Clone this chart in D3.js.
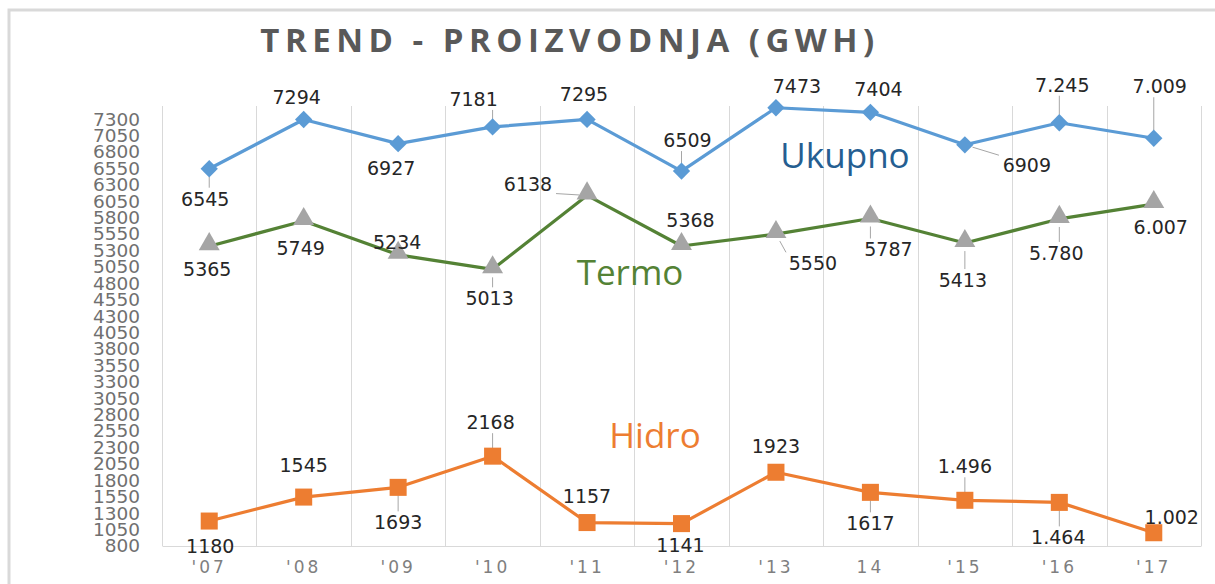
<!DOCTYPE html>
<html>
<head>
<meta charset="utf-8">
<script src="https://cdn.jsdelivr.net/npm/d3@7"></script>
<style>
  body { margin: 0; background: #fff; }
  svg { display: block; }
  .tick text { font-family: "DejaVu Sans", Verdana, sans-serif; }
</style>
</head>
<body>
<svg id="chart" width="1215" height="584"></svg>
<script>
// chart data
var years = ["'07", "'08", "'09", "'10", "'11", "'12", "'13", "14", "'15", "'16", "'17"];
var ukupno = [6545, 7294, 6927, 7181, 7295, 6509, 7473, 7404, 6909, 7245, 7009];
var termo = [5365, 5749, 5234, 5013, 6138, 5368, 5550, 5787, 5413, 5780, 6007];
var hidro = [1180, 1545, 1693, 2168, 1157, 1141, 1923, 1617, 1496, 1464, 1002];
var yTicks = d3.range(800, 7301, 250);

// label layout (offset of label centre from point, px) + leader line flag
var ukupnoLabelPos = [[-4, 30, 1], [-7, -22, 0], [-7, 25, 0], [-19, -28, 1], [-3, -25, 0], [6, -31, 1],
  [21, -22, 0], [8, -23, 0], [62, 20, 1], [3, -38, 1], [6, -52, 1]];
var termoLabelPos = [[-2, 23, 0], [-3, 27, 0], [-1, -13, 0], [-3, 29, 1], [-59, -11, 1], [9, -26, 0],
  [37, 29, 1], [18, 31, 1], [-2, 37, 1], [-3, 34, 1], [7, 23, 0]];
var hidroLabelPos = [[1, 25, 0], [0, -32, 0], [0, 35, 1], [-2, -34, 1], [0, -26, 0], [-1, 22, 0],
  [0, -26, 0], [0, 31, 1], [0, -34, 1], [-1, 35, 1], [18, -16, 0]];

var svg = d3.select('#chart');
var margin = {left: 162, right: 14, top: 106, bottom: 38};
var width = 1215 - margin.left - margin.right;
var height = 584 - margin.top - margin.bottom;

//outer frame (only top and left edge are visible in the screenshot)
svg.append('path')
  .attr('d', 'M9,584 L9,10 L1215,10')
  .attr('fill', 'none')
  .attr('stroke', '#d9d9d9')
  .attr('stroke-width', 3);

svg.append('text')
  .attr('x', 570)
  .attr('y', 52)
  .attr('text-anchor', 'middle')
  .style('font-family', '"Open Sans", sans-serif')
  .style('font-weight', 'bold')
  .style('font-size', '33px')
  .style('letter-spacing', '5.5px')
  .style('fill', '#595959')
  .text('TREND - PROIZVODNJA (GWH)');

var g = svg.append('g').attr('transform', 'translate(' + margin.left + ',' + margin.top + ')');

var x = d3.scaleBand().domain(years).range([0, width]);
var y = d3.scaleLinear().domain([800, 7500]).range([height, 0]);

//vertical gridlines between categories
g.selectAll('.vgrid')
  .data(d3.range(years.length + 1))
  .enter().append('line')
  .attr('class', 'vgrid')
  .attr('x1', function(d) { return Math.round(d * x.step()) + 0.5; })
  .attr('x2', function(d) { return Math.round(d * x.step()) + 0.5; })
  .attr('y1', 0)
  .attr('y2', height)
  .attr('stroke', '#d9d9d9')
  .attr('stroke-width', 1);

//x axis
var xAxis = g.append('g')
  .attr('transform', 'translate(0,' + height + ')')
  .call(d3.axisBottom(x).tickSize(0).tickPadding(15));
xAxis.select('.domain').attr('stroke', '#d9d9d9');
xAxis.selectAll('text')
  .style('font-size', '17px')
  .style('letter-spacing', '3px')
  .style('fill', '#7f7f7f');

//y axis
var yAxis = g.append('g')
  .call(d3.axisLeft(y).tickValues(yTicks).tickFormat(d3.format('d')).tickSize(0).tickPadding(22));
yAxis.select('.domain').remove();
yAxis.selectAll('text')
  .style('font-size', '18.5px')
  .style('fill', '#707070');

//diamond = square turned 45 degrees
var diamond = {
  draw: function(context, size) {
    var r = Math.sqrt(size) / 2 * Math.SQRT2;
    context.moveTo(0, -r);
    context.lineTo(r, 0);
    context.lineTo(0, r);
    context.lineTo(-r, 0);
    context.closePath();
  }
};

var series = [
  {name: 'Ukupno', values: ukupno, color: '#5b9bd5', marker: diamond, markerSize: 150, markerColor: '#5b9bd5', pos: ukupnoLabelPos, dotFrom: 9},
  {name: 'Termo', values: termo, color: '#548235', marker: d3.symbolTriangle, markerSize: 190, markerColor: '#a5a5a5', pos: termoLabelPos, dotFrom: 9},
  {name: 'Hidro', values: hidro, color: '#ed7d31', marker: d3.symbolSquare, markerSize: 290, markerColor: '#ed7d31', pos: hidroLabelPos, dotFrom: 8}
];

var dotFormat = d3.formatLocale({decimal: ',', thousands: '.', grouping: [3]}).format(',');

function px(i) { return x(years[i]) + x.bandwidth() / 2; }

series.forEach(function(s) {
  var line = d3.line()
    .x(function(d, i) { return px(i); })
    .y(function(d) { return y(d); });

  g.append('path')
    .datum(s.values)
    .attr('d', line)
    .attr('fill', 'none')
    .attr('stroke', s.color)
    .attr('stroke-width', 3.2)
    .attr('stroke-linejoin', 'round');

  //leader lines from point to label
  s.values.forEach(function(v, i) {
    var p = s.pos[i];
    if (!p[2]) return;
    var cx = px(i), cy = y(v);
    var lx = cx + p[0], ly = cy + p[1];
    //nearest point on the label box
    var bx = Math.max(lx - 26, Math.min(cx, lx + 26));
    var by = Math.max(ly - 9, Math.min(cy, ly + 9));
    var dx = bx - cx, dy = by - cy;
    var len = Math.sqrt(dx * dx + dy * dy);
    if (len < 12) return;
    g.append('line')
      .attr('x1', cx + dx / len * 8)
      .attr('y1', cy + dy / len * 8)
      .attr('x2', bx - dx / len * 2)
      .attr('y2', by - dy / len * 2)
      .attr('stroke', '#a6a6a6')
      .attr('stroke-width', 1);
  });

  g.selectAll('.marker-' + s.name)
    .data(s.values)
    .enter().append('path')
    .attr('class', 'marker-' + s.name)
    .attr('d', d3.symbol().type(s.marker).size(s.markerSize))
    .attr('transform', function(d, i) {
      var off = s.marker === d3.symbolTriangle ? -2 : 0;
      return 'translate(' + px(i) + ',' + (y(d) + off) + ')';
    })
    .attr('fill', s.markerColor);

  g.selectAll('.label-' + s.name)
    .data(s.values)
    .enter().append('text')
    .attr('class', 'label-' + s.name)
    .attr('x', function(d, i) { return px(i) + s.pos[i][0]; })
    .attr('y', function(d, i) { return y(d) + s.pos[i][1]; })
    .attr('dy', '0.36em')
    .attr('text-anchor', 'middle')
    .style('font-family', '"DejaVu Sans", Verdana, sans-serif')
    .style('font-size', '19px')
    .style('fill', '#262626')
    .text(function(d, i) { return i >= s.dotFrom ? dotFormat(d) : String(d); });
});

//series names placed inside the plot
var seriesNames = [
  {text: 'Ukupno', x: 845, y: 156, color: '#255e91'},
  {text: 'Termo', x: 630, y: 273, color: '#548235'},
  {text: 'Hidro', x: 655, y: 436, color: '#ed7d31'}
];
svg.selectAll('.series-name')
  .data(seriesNames)
  .enter().append('text')
  .attr('class', 'series-name')
  .attr('x', function(d) { return d.x; })
  .attr('y', function(d) { return d.y; })
  .attr('dy', '0.35em')
  .attr('text-anchor', 'middle')
  .style('font-family', '"Open Sans", sans-serif')
  .style('font-size', '35px')
  .style('fill', function(d) { return d.color; })
  .text(function(d) { return d.text; });
</script>
</body>
</html>
